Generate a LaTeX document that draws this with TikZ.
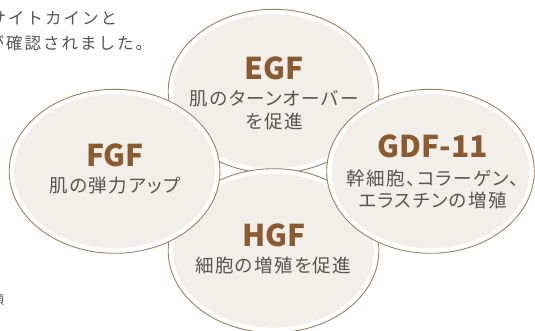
\documentclass[tikz,border=0pt]{standalone}
\usepackage{fontspec}
\newfontfamily\jpbody{Noto Sans CJK JP}[RawFeature=+palt,LetterSpace=8]
\newfontfamily\jptop{Noto Sans CJK JP}[LetterSpace=12]
\newfontfamily\jptitle{Noto Sans CJK JP}
\definecolor{ringline}{HTML}{A08060}
\definecolor{fillc}{HTML}{F2EFEA}
\definecolor{titlec}{HTML}{8A5A30}
\definecolor{bodyc}{HTML}{555555}
\tikzset{
  outerring/.style={fill=white, draw=ringline, line width=0.9pt},
  innerfill/.style={fill=fillc},
  titletext/.style={font=\jptitle\bfseries\fontsize{30}{32}\selectfont, text=titlec, inner sep=0pt},
  bodytext/.style={font=\jpbody\fontsize{18.5}{22}\selectfont, text=bodyc, inner sep=0pt},
  toptext/.style={font=\jptop\fontsize{16.5}{20}\selectfont, text=bodyc, inner sep=0pt, anchor=west},
  smalltext/.style={font=\jptop\fontsize{12}{14}\selectfont, text=bodyc, inner sep=0pt, anchor=west}
}
\begin{document}
\begin{tikzpicture}[x=1pt,y=-1pt]
\useasboundingbox (0,0) rectangle (535,331);
\clip (0,0) rectangle (535,331);
\fill[white] (0,0) rectangle (535,331);
\coordinate (cE) at (273.5,91.3);
\coordinate (cH) at (273.5,250.7);
\coordinate (cF) at (114.6,171.3);
\coordinate (cG) at (430.5,171.3);
% EGF
\path[outerring] (cE) ellipse [x radius=105.3pt, y radius=82pt];
\path[innerfill] (cE) ellipse [x radius=100.3pt, y radius=77pt];
% HGF
\path[outerring] (cH) ellipse [x radius=105.3pt, y radius=82pt];
\path[innerfill] (cH) ellipse [x radius=100.3pt, y radius=77pt];
% FGF
\path[outerring] (cF) ellipse [x radius=105.4pt, y radius=82pt];
\path[innerfill] (cF) ellipse [x radius=100.4pt, y radius=77pt];
% GDF
\path[outerring] (cG) ellipse [x radius=103.8pt, y radius=82pt];
\path[innerfill] (cG) ellipse [x radius=98.8pt, y radius=77pt];
% texts
\node[titletext] (egft) at (274,68.3) {EGF};
\node[bodytext] (egf1) at (274,98.3) {肌のターンオーバー};
\node[bodytext] (egf2) at (274,121.7) {を促進};
\node[titletext] (fgft) at (115,155) {FGF};
\node[bodytext] (fgf1) at (115,185.7) {肌の弾力アップ};
\node[titletext] (gdft) at (432.7,146.7) {GDF-11};
\node[bodytext] (gdf1) at (432.7,178.3) {幹細胞、コラーゲン、};
\node[bodytext] (gdf2) at (432.7,200) {エラスチンの増殖};
\node[titletext] (hgft) at (274,235) {HGF};
\node[bodytext] (hgf1) at (273.3,265) {細胞の増殖を促進};
\node[toptext] (t1) at (-10.5,18.5) {サイトカインと};
\node[toptext] (t2) at (-12.5,43.3) {が確認されました。};
\node[smalltext] (t3) at (-8,300) {頂};
\end{tikzpicture}
\end{document}
